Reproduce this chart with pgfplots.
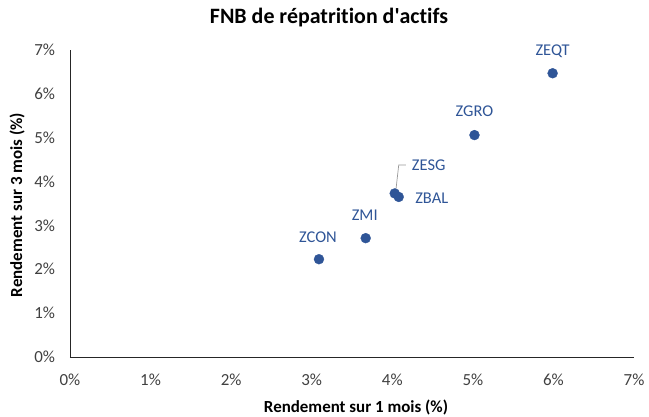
\documentclass[border=0pt]{standalone}
\usepackage{pgfplots}
\pgfplotsset{compat=1.18}
\usepackage{pgfplotstable}
\usepackage{fontspec}
\setmainfont{Carlito}[Ligatures=NoCommon]
\definecolor{dotblue}{HTML}{2F5597}
\definecolor{lblblue}{HTML}{2F5597}
\definecolor{ticktext}{HTML}{404040}
\pgfplotstableread{
x y lbl dx dy
3.09 2.23 ZCON -1 22
3.67 2.71 ZMI -1 23
4.03 3.73 ZESG 34 28
4.08 3.65 ZBAL 33 -1
5.02 5.06 ZGRO 0 24
5.99 6.47 ZEQT 0 22
}\pts
\begin{document}
\begin{tikzpicture}[x=1bp,y=1bp]
\path[use as bounding box] (-70,-59) rectangle (579,357);
\begin{axis}[
  at={(0,0)}, anchor=south west,
  scale only axis, width=564bp, height=307bp,
  xmin=0, xmax=7, ymin=0, ymax=7,
  axis x line*=bottom, axis y line*=left,
  axis line style={black!85, line width=0.8pt, -},
  xtick={0,...,7}, ytick={0,...,7},
  major tick length=0pt,
  xticklabel={\pgfmathprintnumber{\tick}\%},
  yticklabel={\pgfmathprintnumber{\tick}\%},
  /pgf/number format/assume math mode=true,
  tick label style={font=\fontsize{17}{17}\selectfont, text=ticktext},
  xticklabel style={yshift=-13bp},
  yticklabel style={xshift=-11.5bp},
  clip=false,
]
\addplot[only marks, mark=*, mark size=5bp, mark options={fill=dotblue, draw=dotblue, line width=0.3pt},
  visualization depends on={\thisrow{dx}\as\mydx},
  visualization depends on={\thisrow{dy}\as\mydy},
  nodes near coords, point meta=explicit symbolic,
  every node near coord/.style={anchor=center, xshift=\mydx*1bp, yshift=\mydy*1bp, text=lblblue, font=\fontsize{16.5}{16.5}\selectfont},
] table[x=x, y=y, meta=lbl] {\pts};
\draw[gray!80, line width=0.7pt] (axis cs:4.045,3.81) -- (axis cs:4.08,4.38) -- (axis cs:4.17,4.38);
\end{axis}
\node[font=\bfseries\fontsize{22}{22}\selectfont] at (259,339) {FNB de répatrition d\textquotesingle actifs};
\node[font=\bfseries\fontsize{17}{17}\selectfont] at (286,-50) {Rendement sur 1 mois (\%)};
\node[font=\bfseries\fontsize{17}{17}\selectfont, rotate=90] at (-53,152) {Rendement sur 3 mois (\%)};
\end{tikzpicture}
\end{document}
